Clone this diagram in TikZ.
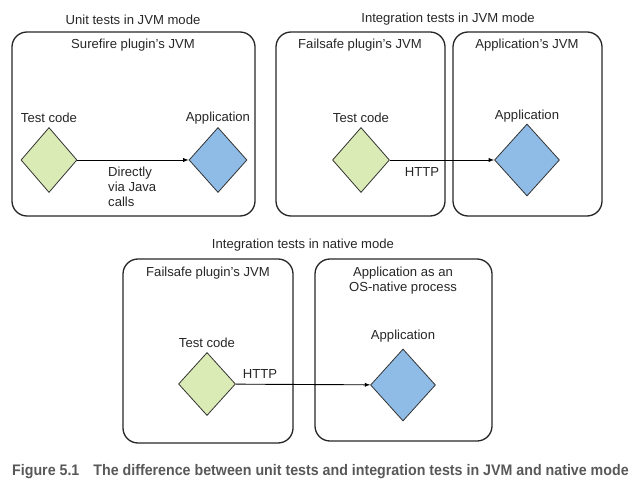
\documentclass[tikz,border=0pt]{standalone}
\usepackage{fontspec}
\setmainfont{Liberation Sans}
\newfontfamily\capfont[FakeStretch=0.93]{Liberation Sans}
\usepackage{tikz}
\usetikzlibrary{arrows,shapes.geometric}
\definecolor{testgreen}{RGB}{218,235,181}
\definecolor{appblue}{RGB}{142,188,230}
\definecolor{capgray}{RGB}{88,88,88}
\begin{document}
\begin{tikzpicture}[x=1bp,y=-1bp,
    lbl/.style={inner sep=0pt,text=black!85,font=\fontsize{13.1bp}{15bp}\selectfont},
    jvmbox/.style={draw=black!85,line width=1.3bp,rounded corners=15bp},
    testnode/.style={diamond,draw=black!80,line width=0.8bp,fill=testgreen,inner sep=0pt,minimum width=57bp,minimum height=65bp},
    appnode/.style={diamond,draw=black!80,line width=0.8bp,fill=appblue,inner sep=0pt,minimum width=65bp,minimum height=72bp},
    call/.style={-latex,line width=0.9bp}]
  \useasboundingbox (0,0) rectangle (643,495);
  % unit tests in JVM mode
  \node[lbl] (unit) at (133,20) {Unit tests in JVM mode};
  \draw[jvmbox] (12,32) rectangle (255,216);
  \node[lbl] (sure) at (133,45) {Surefire plugin’s JVM};
  \node[lbl] (ta) at (49,118) {Test code};
  \node[lbl] (aa) at (218,118) {Application};
  \node[testnode,minimum width=56bp] (t1) at (49,160) {};
  \node[appnode,minimum width=58bp,minimum height=65bp] (a1) at (218,160) {};
  \draw[call] (t1) -- (a1);
  \node[lbl,anchor=west,align=left] (direct) at (108,187) {Directly\\via Java\\calls};
  % integration tests in JVM mode
  \node[lbl] (integ) at (448,19) {Integration tests in JVM mode};
  \draw[jvmbox] (276,32) rectangle (445,216);
  \draw[jvmbox] (453,32) rectangle (602,216);
  \node[lbl] (fail) at (360,45) {Failsafe plugin’s JVM};
  \node[lbl] (appjvm) at (527,45) {Application’s JVM};
  \node[lbl] (tb) at (361,118) {Test code};
  \node[lbl] (ab) at (527,116) {Application};
  \node[testnode] (t2) at (361,160) {};
  \node[appnode] (a2) at (527,160) {};
  \draw[call] (t2) -- (a2);
  \node[lbl] (http) at (422,172) {HTTP};
  % integration tests in native mode
  \node[lbl] (native) at (303,245) {Integration tests in native mode};
  \draw[jvmbox] (123,259) rectangle (293,443);
  \draw[jvmbox] (315,259) rectangle (492,441);
  \node[lbl] (fail2) at (208,273) {Failsafe plugin’s JVM};
  \node[lbl,align=center] (osproc) at (403,281) {Application as an\\OS-native process};
  \node[lbl] (tc) at (207,343) {Test code};
  \node[lbl] (ac) at (403,336) {Application};
  \node[testnode,minimum height=63bp] (t3) at (207,384) {};
  \node[appnode] (a3) at (403,385) {};
  \draw[call] (t3) -- (a3);
  \node[lbl] (http2) at (260,374) {HTTP};
  % caption
  \node[anchor=west,inner sep=0pt,text=capgray,font=\capfont\bfseries\fontsize{15.3bp}{17bp}\selectfont] (cap) at (12,472)
    {Figure 5.1\hspace{14bp}The difference between unit tests and integration tests in JVM and native mode};
\end{tikzpicture}
\end{document}
